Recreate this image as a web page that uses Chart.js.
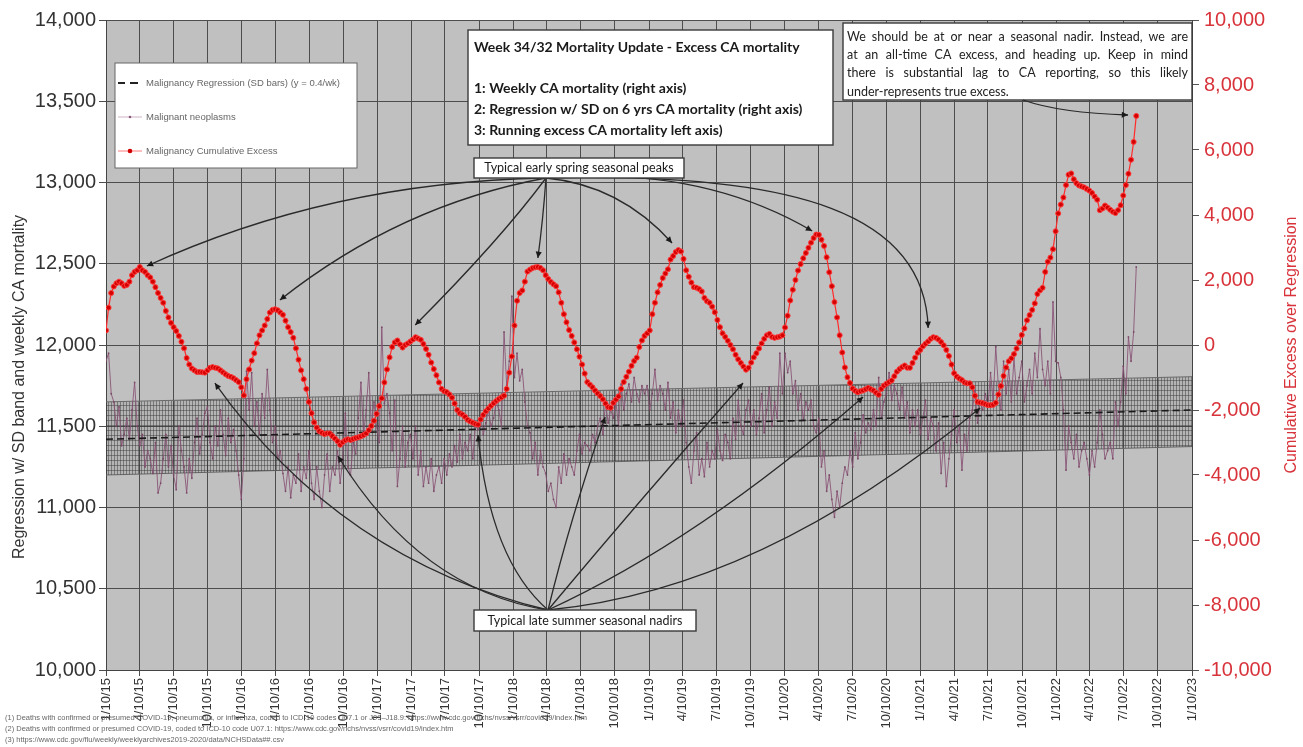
<!DOCTYPE html>
<html>
<head>
<meta charset="utf-8">
<script src="https://cdn.jsdelivr.net/npm/chart.js@4.4.1/dist/chart.umd.min.js"></script>
<style>
  html, body { margin: 0; padding: 0; background: #fff; }
  canvas { display: block; }
</style>
</head>
<body>
<canvas id="myChart" width="1303" height="747"></canvas>
<script>
// weekly series start (week ending 1/10/15)
const firstWeek = '2015-01-10';

const xTickLabels = ['1/10/15','4/10/15','7/10/15','10/10/15','1/10/16','4/10/16','7/10/16','10/10/16',
  '1/10/17','4/10/17','7/10/17','10/10/17','1/10/18','4/10/18','7/10/18','10/10/18',
  '1/10/19','4/10/19','7/10/19','10/10/19','1/10/20','4/10/20','7/10/20','10/10/20',
  '1/10/21','4/10/21','7/10/21','10/10/21','1/10/22','4/10/22','7/10/22','10/10/22','1/10/23'];

// Malignant neoplasms, weekly deaths (left axis)
const neoplasms = [
  11900, 11950, 11700, 11650, 11500, 11620, 11380, 11450, 11550, 11420, 11600, 11770, 11500,
  11380, 11450, 11250, 11350, 11300, 11210, 11400, 11090, 11150, 11300, 11450, 11250, 11380,
  11200, 11110, 11500, 11350, 11250, 11090, 11300, 11180, 11400, 11550, 11330, 11450, 11580,
  11620, 11400, 11300, 11500, 11380, 11600, 11450, 11320, 11550, 11400, 11480, 11350, 11200,
  11050, 11300, 11840, 11600, 11830, 11500, 11650, 11450, 11700, 11550, 11850, 11600, 11400,
  11500, 11300, 11350, 11210, 11100, 11250, 11060, 11200, 11150, 11330, 11100, 11250, 11180,
  11350, 11150, 11050, 11250, 11100, 11000, 11200, 11330, 11100, 11250, 11200, 11350, 11150,
  11300, 11580, 11250, 11200, 11400, 11330, 11550, 11770, 11450, 11600, 11830, 11500, 11650,
  11500, 11400, 12110, 11640, 11700, 11580, 11350, 11660, 11130, 11300, 11500, 11250, 11400,
  11450, 11300, 11500, 11200, 11350, 11130, 11250, 11150, 11300, 11100, 11200, 11250, 11150,
  11300, 11200, 11330, 11250, 11380, 11280, 11450, 11300, 11400, 11350, 11450, 11300, 11500,
  11480, 11560, 11450, 11520, 11600, 11500, 11550, 11650, 11600, 11500, 12080, 11750, 11900,
  12300, 11800, 11950, 11780, 11850, 11650, 11500, 11460, 11300, 11400, 11200, 11350, 11250,
  11210, 11100, 11150, 11050, 11000, 11250, 11150, 11330, 11200, 11300, 11250, 11200, 11350,
  11450, 11330, 11400, 11380, 11350, 11450, 11400, 11500, 11550, 11450, 11650, 11520, 11600,
  11550, 11650, 11500, 11760, 11600, 11700, 11760, 11650, 11800, 11700, 11650, 11750, 11700,
  11750, 11600, 11700, 11850, 11660, 11750, 11700, 11600, 11770, 11550, 11650, 11460, 11600,
  11500, 11660, 11400, 11250, 11150, 11350, 11460, 11200, 11300, 11190, 11400, 11250, 11350,
  11300, 11480, 11350, 11290, 11450, 11400, 11300, 11550, 11420, 11660, 11500, 11450, 11600,
  11660, 11500, 11600, 11450, 11550, 11700, 11460, 11600, 11740, 11500, 11650, 11550, 11950,
  11700, 11950, 11830, 11900, 11700, 11780, 11600, 11700, 11540, 11650, 11600, 11660, 11500,
  11460, 11550, 11250, 11350, 11100, 11200, 11050, 10940, 11100, 11000, 11150, 11250, 11200,
  11350, 11250, 11460, 11300, 11400, 11570, 11460, 11520, 11480, 11600, 11500, 11800, 11550,
  11650, 11700, 11830, 11660, 11750, 11700, 11600, 11740, 11550, 11650, 11460, 11600, 11500,
  11600, 11450, 11550, 11660, 11420, 11550, 11500, 11350, 11520, 11210, 11400, 11130, 11300,
  11450, 11600, 11400, 11500, 11230, 11450, 11350, 11550, 11600, 11720, 11520, 11650, 11600,
  11700, 11620, 11830, 11650, 11990, 11750, 11600, 11900, 11700, 11850, 11650, 11920, 11700,
  11800, 11900, 11650, 11750, 11850, 11700, 11950, 11800, 12100, 11850, 11750, 11900, 11700,
  12265, 11900, 11890, 11800, 11600, 11230, 11500, 11400, 11300, 11450, 11250, 11350, 11400,
  11300, 11200, 11350, 11250, 11400, 11600, 11450, 11300, 11350, 11400, 11300, 11650, 11500,
  11650, 11870, 11700, 12050, 11900, 12080, 12480
];

// Malignancy cumulative excess over regression (right axis)
const cumulativeExcess = [
  450, 1150, 1600, 1800, 1900, 1950, 1900, 1820, 1850, 1950, 2150, 2250, 2300,
  2400, 2300, 2250, 2150, 2080, 1950, 1780, 1600, 1450, 1300, 1050, 850, 680,
  550, 430, 280, 100, -100, -400, -600, -720, -780, -830, -830, -840, -850,
  -780, -700, -680, -700, -720, -780, -840, -900, -950, -980, -1020, -1080, -1140,
  -1300, -1550, -1050, -750, -480, -250, 50, 300, 450, 600, 800, 1000, 1080,
  1100, 1070, 1000, 930, 750, 550, 400, 220, -100, -450, -780, -1050, -1350,
  -1750, -2100, -2380, -2540, -2650, -2700, -2740, -2720, -2720, -2800, -2880, -2960, -3070,
  -2990, -2930, -2900, -2920, -2890, -2860, -2840, -2810, -2770, -2720, -2620, -2490, -2330,
  -2120, -1880, -1640, -1150, -750, -380, -60, 80, 140, 20, -80, 0, 50,
  110, 170, 240, 200, 160, 30, -120, -300, -540, -740, -930, -1150, -1350,
  -1420, -1450, -1520, -1620, -1800, -2000, -2100, -2140, -2210, -2300, -2350, -2390, -2430,
  -2450, -2290, -2150, -2040, -1950, -1870, -1790, -1720, -1660, -1610, -1560, -1350, -850,
  -350, 600, 1360, 1600, 1680, 1950, 2260, 2320, 2370, 2390, 2400, 2370, 2300,
  2150, 2030, 1940, 1870, 1810, 1620, 1300, 950, 700, 460, 280, 80, -130,
  -360, -600, -880, -1140, -1220, -1300, -1400, -1490, -1570, -1670, -1800, -1910, -1930,
  -1780, -1680, -1580, -1350, -1140, -980, -820, -640, -490, -390, -60, 140, 280,
  360, 450, 950, 1300, 1620, 1850, 2060, 2200, 2330, 2630, 2740, 2860, 2920,
  2880, 2650, 2300, 2100, 1920, 1780, 1760, 1720, 1650, 1450, 1350, 1300, 1180,
  1010, 770, 550, 360, 250, 130, 0, -130, -300, -440, -550, -660, -760,
  -700, -540, -380, -250, -110, 50, 190, 300, 340, 250, 220, 240, 260,
  300, 540, 900, 1370, 1700, 2000, 2290, 2490, 2670, 2830, 2990, 3150, 3290,
  3400, 3390, 3240, 3050, 2700, 2240, 1810, 1320, 850, 300, -230, -690, -990,
  -1170, -1340, -1410, -1450, -1420, -1400, -1360, -1320, -1360, -1400, -1470, -1530, -1350,
  -1250, -1190, -1140, -1090, -960, -820, -740, -680, -630, -700, -700, -550, -390,
  -240, -150, -40, 40, 110, 190, 240, 220, 170, 90, -10, -150, -340,
  -600, -870, -970, -1030, -1080, -1150, -1180, -1180, -1300, -1560, -1750, -1770, -1790,
  -1820, -1850, -1850, -1840, -1780, -1520, -1260, -950, -690, -500, -410, -280, -110,
  80, 310, 510, 760, 920, 1080, 1280, 1570, 1680, 1760, 2250, 2560, 2690,
  2950, 3500, 4050, 4320, 4540, 4920, 5240, 5280, 5100, 4980, 4910, 4880, 4850,
  4800, 4750, 4680, 4570, 4470, 4150, 4200, 4290, 4230, 4160, 4100, 4060, 4150,
  4300, 4600, 4920, 5270, 5700, 6250, 7050
];

// regression line and SD band, read at 1/10/15 and 1/10/23 (left axis)
const regressionDates = ['2015-01-10', '2023-01-10'];
const regression = [11420, 11600];
const sdUpper = [11650, 11805];
const sdLower = [11200, 11375];

const DAY = 86400000;
const toTime = s => { const [m, d, y] = s.split('/').map(Number); return Date.UTC(2000 + y, m - 1, d); };
const tickValues = xTickLabels.map(toTime);
const week0 = Date.parse(firstWeek);
const weekX = neoplasms.map((_, i) => week0 + i * 7 * DAY);
const regX = regressionDates.map(d => Date.parse(d));

// hatch for the SD band
const hatch = (() => {
  const c = document.createElement('canvas');
  c.width = 3; c.height = 5;
  const g = c.getContext('2d');
  g.fillStyle = 'rgba(0,0,0,0.06)';
  g.fillRect(0, 0, 3, 5);
  g.fillStyle = 'rgba(50,50,50,0.45)';
  g.fillRect(0, 0, 1, 5);
  g.fillRect(0, 0, 3, 1);
  return g.createPattern(c, 'repeat');
})();

// annotations (arrow tips point at [date, excess])
const springArrows = [
  { to: ['2015-04-30', 2430], c: [[330, 182]] },
  { to: ['2016-04-22', 1385], c: [[400, 205]] },
  { to: ['2017-04-21', 615], c: [[500, 240]] },
  { to: ['2018-03-17', 2677], c: [[543, 220]] },
  { to: ['2019-03-13', 3140], c: [[620, 185]] },
  { to: ['2020-03-24', 3508], c: [[700, 165]] },
  { to: ['2021-01-30', 523], c: [[800, 172], [925, 215]] }
];
const nadirArrows = [
  { to: ['2015-10-30', -1170], c: [[340, 560]] },
  { to: ['2016-09-25', -3415], c: [[420, 590]] },
  { to: ['2017-10-07', -2770], c: [[490, 560]] },
  { to: ['2018-09-14', -2215], c: [[570, 520]] },
  { to: ['2019-09-20', -1170], c: [[640, 500]] },
  { to: ['2020-08-08', -1600], c: [[700, 540]] },
  { to: ['2021-06-19', -1940], c: [[760, 590]] }
];
const noteArrow = { to: ['2022-07-22', 7077], c: [[1060, 113]] };

const noteLines = [
  'We should be at or near a seasonal nadir. Instead, we are',
  'at an all-time CA excess, and heading up. Keep in mind',
  'there is substantial lag to CA reporting, so this likely',
  'under-represents true excess.'
];
const titleLines = [
  'Week 34/32 Mortality Update - Excess CA mortality',
  '1: Weekly CA mortality (right axis)',
  '2: Regression w/ SD on 6 yrs CA mortality (right axis)',
  '3: Running excess CA mortality left axis)'
];
const footnotes = [
  '(1) Deaths with confirmed or presumed COVID-19, pneumonia, or influenza, coded to ICD-10 codes U07.1 or J09\u2013J18.9: https://www.cdc.gov/nchs/nvss/vsrr/covid19/index.htm',
  '(2) Deaths with confirmed or presumed COVID-19, coded to ICD-10 code U07.1: https://www.cdc.gov/nchs/nvss/vsrr/covid19/index.htm',
  '(3) https://www.cdc.gov/flu/weekly/weeklyarchives2019-2020/data/NCHSData##.csv'
];

const SANS = "'Liberation Sans', Arial, sans-serif";
const CAL = "Lato, 'Open Sans', sans-serif";

function drawArrow(ctx, from, ctrl, tip) {
  ctx.beginPath();
  ctx.moveTo(from[0], from[1]);
  if (ctrl.length === 2) ctx.bezierCurveTo(ctrl[0][0], ctrl[0][1], ctrl[1][0], ctrl[1][1], tip[0], tip[1]);
  else ctx.quadraticCurveTo(ctrl[0][0], ctrl[0][1], tip[0], tip[1]);
  ctx.stroke();
  const last = ctrl[ctrl.length - 1];
  const ang = Math.atan2(tip[1] - last[1], tip[0] - last[0]);
  ctx.beginPath();
  ctx.moveTo(tip[0], tip[1]);
  ctx.lineTo(tip[0] - 7 * Math.cos(ang - 0.45), tip[1] - 7 * Math.sin(ang - 0.45));
  ctx.lineTo(tip[0] - 7 * Math.cos(ang + 0.45), tip[1] - 7 * Math.sin(ang + 0.45));
  ctx.closePath();
  ctx.fill();
}

function justify(ctx, text, x, y, w) {
  const words = text.split(' ');
  const total = words.reduce((s, t) => s + ctx.measureText(t).width, 0);
  const gap = (w - total) / (words.length - 1);
  let cx = x;
  words.forEach(t => { ctx.fillText(t, cx, y); cx += ctx.measureText(t).width + gap; });
}

function box(ctx, x, y, w, h) {
  ctx.fillStyle = '#fff';
  ctx.fillRect(x, y, w, h);
  ctx.strokeStyle = '#3a3a3a';
  ctx.lineWidth = 1.4;
  ctx.strokeRect(x, y, w, h);
}

const overlay = {
  id: 'overlay',
  beforeDraw(chart) {
    const { ctx, chartArea: a } = chart;
    ctx.save();
    ctx.fillStyle = '#fff';
    ctx.fillRect(0, 0, chart.width, chart.height);
    ctx.fillStyle = '#c0c0c0';
    ctx.fillRect(a.left, a.top, a.right - a.left, a.bottom - a.top);
    ctx.restore();
  },
  afterDraw(chart) {
    const { ctx } = chart;
    const sx = chart.scales.x, sy2 = chart.scales.y2;
    const at = p => [sx.getPixelForValue(Date.parse(p[0])), sy2.getPixelForValue(p[1])];
    ctx.save();

    // axis titles
    ctx.textAlign = 'center';
    ctx.textBaseline = 'middle';
    ctx.font = '16px ' + SANS;
    ctx.save();
    ctx.translate(20, 387);
    ctx.rotate(-Math.PI / 2);
    ctx.fillStyle = '#333';
    ctx.fillText('Regression w/ SD band and weekly CA mortality', 0, 0);
    ctx.restore();
    ctx.save();
    ctx.translate(1292, 345);
    ctx.rotate(-Math.PI / 2);
    ctx.fillStyle = '#d8333a';
    ctx.fillText('Cumulative Excess over Regression', 0, 0);
    ctx.restore();

    // legend
    ctx.fillStyle = '#fff';
    ctx.fillRect(115, 63, 242, 105);
    ctx.strokeStyle = '#666';
    ctx.lineWidth = 1;
    ctx.strokeRect(115, 63, 242, 105);
    ctx.strokeStyle = '#222';
    ctx.lineWidth = 2;
    ctx.beginPath();
    ctx.moveTo(118, 83); ctx.lineTo(125, 83);
    ctx.moveTo(130, 83); ctx.lineTo(138, 83);
    ctx.stroke();
    ctx.strokeStyle = '#cdb3c3';
    ctx.lineWidth = 1;
    ctx.beginPath(); ctx.moveTo(118, 117); ctx.lineTo(142, 117); ctx.stroke();
    ctx.fillStyle = '#8a5a7a';
    ctx.beginPath(); ctx.arc(130, 117, 1.3, 0, Math.PI * 2); ctx.fill();
    ctx.strokeStyle = '#ff7a7a';
    ctx.beginPath(); ctx.moveTo(118, 151); ctx.lineTo(142, 151); ctx.stroke();
    ctx.fillStyle = '#d00000';
    ctx.beginPath(); ctx.arc(130, 151, 2.3, 0, Math.PI * 2); ctx.fill();
    ctx.font = '9.5px ' + SANS;
    ctx.fillStyle = '#666';
    ctx.textAlign = 'left';
    ctx.fillText('Malignancy Regression (SD bars) (y = 0.4/wk)', 146, 83);
    ctx.fillText('Malignant neoplasms', 146, 117);
    ctx.fillText('Malignancy Cumulative Excess', 146, 151);

    // title box
    box(ctx, 468, 30, 365, 115);
    ctx.fillStyle = '#1a1a1a';
    ctx.font = 'bold 14px ' + CAL;
    [47, 88, 109, 130].forEach((y, i) => ctx.fillText(titleLines[i], 474, y));

    // note box
    box(ctx, 843, 23, 349, 77);
    ctx.fillStyle = '#222';
    ctx.font = '12.5px ' + CAL;
    [37, 55, 73, 92].forEach((y, i) => {
      if (i < noteLines.length - 1) justify(ctx, noteLines[i], 847, y, 341);
      else ctx.fillText(noteLines[i], 847, y);
    });

    // arrows
    ctx.strokeStyle = '#2a2a2a';
    ctx.fillStyle = '#1a1a1a';
    ctx.lineWidth = 1.3;
    springArrows.forEach(a => drawArrow(ctx, [546, 178], a.c, at(a.to)));
    nadirArrows.forEach(a => drawArrow(ctx, [548, 610], a.c, at(a.to)));
    drawArrow(ctx, [1023, 100], noteArrow.c, at(noteArrow.to));

    // seasonal labels
    box(ctx, 474, 158, 210, 20);
    box(ctx, 474, 610, 222, 21);
    ctx.fillStyle = '#1a1a1a';
    ctx.font = '12.5px ' + CAL;
    ctx.textAlign = 'center';
    ctx.fillText('Typical early spring seasonal peaks', 579, 168);
    ctx.fillText('Typical late summer seasonal nadirs', 585, 620.5);

    // footnotes
    ctx.textAlign = 'left';
    ctx.font = '7.5px ' + SANS;
    ctx.fillStyle = '#666';
    [718, 729, 740].forEach((y, i) => ctx.fillText(footnotes[i], 5, y));
    ctx.restore();
  }
};

const data = {
  datasets: [
    {
      label: 'Malignancy Cumulative Excess',
      data: cumulativeExcess.map((v, i) => ({ x: weekX[i], y: v })),
      yAxisID: 'y2',
      borderColor: '#ff2a2a',
      borderWidth: 1.2,
      pointRadius: 2.5,
      pointBackgroundColor: '#d40000',
      pointBorderColor: '#ff3a3a',
      pointBorderWidth: 1,
      order: 0
    },
    {
      label: 'Malignancy Regression (SD bars)',
      data: regression.map((v, i) => ({ x: regX[i], y: v })),
      yAxisID: 'y',
      borderColor: '#1a1a1a',
      borderWidth: 1.6,
      borderDash: [7, 4],
      pointRadius: 0,
      order: 1
    },
    {
      label: 'Malignant neoplasms',
      data: neoplasms.map((v, i) => ({ x: weekX[i], y: v })),
      yAxisID: 'y',
      borderColor: 'rgba(135,80,115,0.85)',
      borderWidth: 1,
      pointRadius: 0.9,
      pointBackgroundColor: 'rgba(120,70,100,0.9)',
      pointBorderWidth: 0,
      order: 2
    },
    {
      label: 'SD upper',
      data: sdUpper.map((v, i) => ({ x: regX[i], y: v })),
      yAxisID: 'y',
      borderColor: '#6a6a6a',
      borderWidth: 1,
      pointRadius: 0,
      fill: '+1',
      backgroundColor: hatch,
      order: 3
    },
    {
      label: 'SD lower',
      data: sdLower.map((v, i) => ({ x: regX[i], y: v })),
      yAxisID: 'y',
      borderColor: '#6a6a6a',
      borderWidth: 1,
      pointRadius: 0,
      fill: false,
      order: 4
    }
  ]
};

const config = {
  type: 'line',
  data,
  options: {
    responsive: false,
    animation: false,
    layout: { padding: { top: 20, left: 0, right: 0, bottom: 0 } },
    plugins: { legend: { display: false }, tooltip: { enabled: false } },
    scales: {
      x: {
        type: 'linear',
        min: tickValues[0],
        max: tickValues[tickValues.length - 1],
        afterBuildTicks: s => { s.ticks = tickValues.map(v => ({ value: v })); },
        afterFit: s => { s.height = 77; },
        ticks: {
          autoSkip: false, minRotation: 90, maxRotation: 90, padding: 2,
          callback: (v, i) => xTickLabels[i],
          color: '#333', font: { size: 13, family: SANS }
        },
        grid: { color: '#4d4d4d', tickLength: 6 },
        border: { color: '#444' }
      },
      y: {
        position: 'left',
        min: 10000, max: 14000,
        afterFit: s => { s.width = 106; },
        ticks: {
          stepSize: 500, padding: 3,
          callback: v => v.toLocaleString('en-US'),
          color: '#333', font: { size: 20, family: SANS }
        },
        grid: { color: '#4d4d4d', tickLength: 7 },
        border: { color: '#444' }
      },
      y2: {
        position: 'right',
        min: -10000, max: 10000,
        afterFit: s => { s.width = 111; },
        ticks: {
          stepSize: 2000, padding: 5,
          callback: v => v.toLocaleString('en-US'),
          color: '#d8333a', font: { size: 20, family: SANS }
        },
        grid: { drawOnChartArea: false, tickLength: 7, color: '#555' },
        border: { color: '#444' }
      }
    }
  },
  plugins: [overlay]
};

const myChart = new Chart(document.getElementById('myChart'), config);
</script>
</body>
</html>
